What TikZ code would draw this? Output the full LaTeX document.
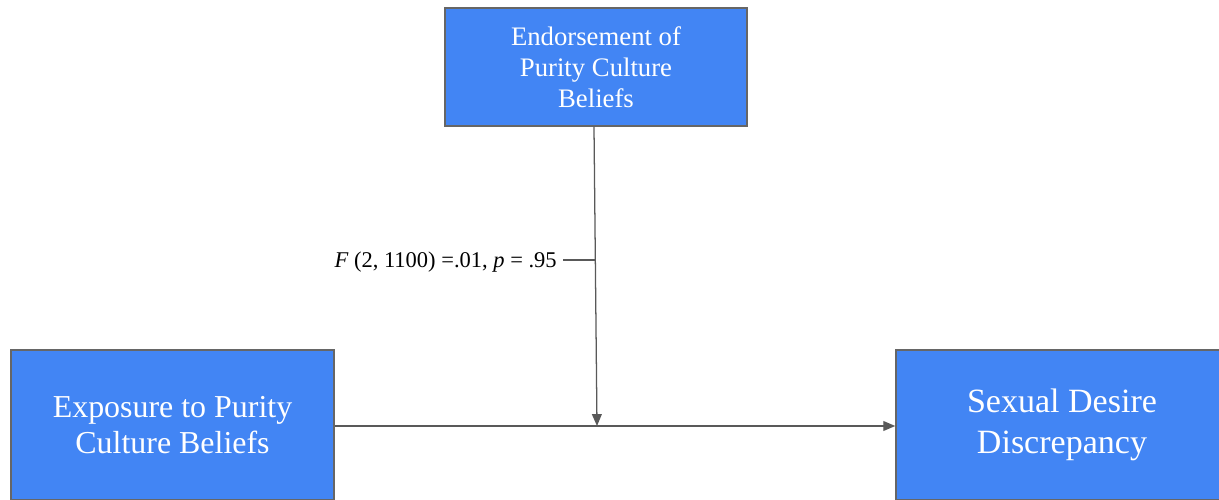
\documentclass[tikz,border=0pt]{standalone}
\usepackage{fontspec}
\setmainfont{Liberation Serif}
\usetikzlibrary{arrows.meta}
\definecolor{boxblue}{HTML}{4285F4}
\definecolor{edgegray}{HTML}{666666}
\definecolor{linegray}{HTML}{595959}

\begin{document}
\begin{tikzpicture}[x=0.025cm, y=-0.025cm,
    varbox/.style={draw=edgegray, line width=1pt, fill=boxblue, text=white, align=center, inner sep=0pt},
    link/.style={draw=linegray, line width=0.9pt},
    tip/.style={-{Triangle[length=8.5pt, width=7pt]}}]
    \useasboundingbox (0,0) rectangle (1219,500);
    % Moderator on top, predictor and outcome below
    \node[varbox, minimum width=7.55cm, minimum height=2.95cm, font=\fontsize{19}{22}\selectfont]
        (mod) at (596, 67) {Endorsement of\\Purity Culture\\Beliefs};
    \node[varbox, minimum width=8.075cm, minimum height=3.75cm, font=\fontsize{22.7}{26}\selectfont]
        (pred) at (172.5, 425) {Exposure to Purity\\Culture Beliefs};
    \node[varbox, minimum width=8.3cm, minimum height=3.75cm, font=\fontsize{24.2}{29}\selectfont]
        (out) at (1062, 425) {Sexual Desire\\Discrepancy};
    \coordinate (meet) at (597, 426);
    \coordinate (tick) at (595, 260);
    \node[anchor=east, inner sep=0pt, font=\fontsize{16}{19}\selectfont]
        (stat) at (557, 262) {\textit{F} (2, 1100) =.01, \textit{p} = .95};
    % Arrows
    \draw[link, tip] (pred.east |- meet) -- (out.west |- meet);
    \draw[link, tip] ([xshift=-0.05cm]mod.south) -- (meet);
    \draw[link] ([xshift=0.15cm]stat.east |- tick) -- (tick);
\end{tikzpicture}
\end{document}
